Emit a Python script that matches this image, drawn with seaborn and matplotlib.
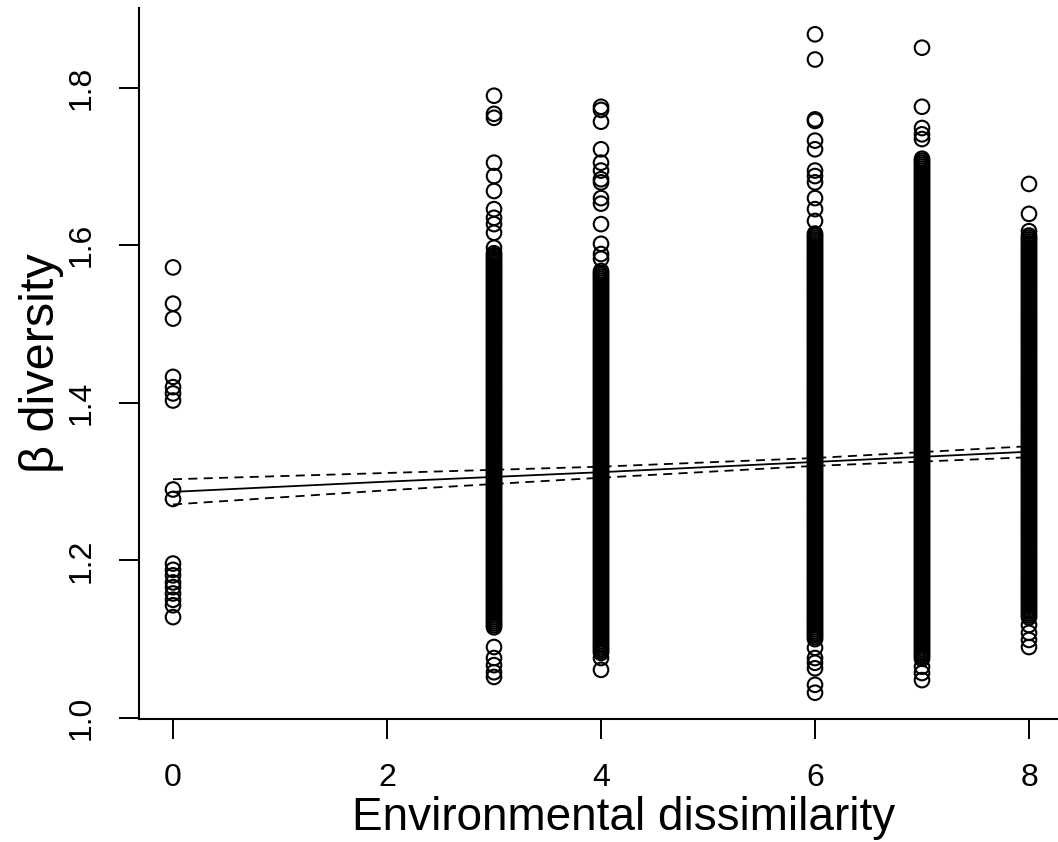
import seaborn as sns
import matplotlib.pyplot as plt
import pandas as pd

# Environmental dissimilarity levels and beta diversity values
env_levels = [0, 3, 4, 6, 7, 8]

beta_0 = [1.572, 1.526, 1.507, 1.433, 1.420, 1.412, 1.403, 1.290, 1.278,
          1.196, 1.188, 1.181, 1.172, 1.166, 1.158, 1.150, 1.143, 1.128]

# x = 3: sparse tails, then the solid run of overlapping points
beta_3 = [1.790, 1.767, 1.762, 1.705, 1.688, 1.669, 1.646, 1.635, 1.627, 1.616, 1.597,
          1.090, 1.076, 1.067, 1.058, 1.052,
          1.1150, 1.1175, 1.1200, 1.1225,
          1.1250, 1.1275, 1.1300, 1.1325, 1.1350, 1.1375, 1.1400, 1.1425, 1.1450, 1.1475,
          1.1500, 1.1525, 1.1550, 1.1575, 1.1600, 1.1625, 1.1650, 1.1675, 1.1700, 1.1725,
          1.1750, 1.1775, 1.1800, 1.1825, 1.1850, 1.1875, 1.1900, 1.1925, 1.1950, 1.1975,
          1.2000, 1.2025, 1.2050, 1.2075, 1.2100, 1.2125, 1.2150, 1.2175, 1.2200, 1.2225,
          1.2250, 1.2275, 1.2300, 1.2325, 1.2350, 1.2375, 1.2400, 1.2425, 1.2450, 1.2475,
          1.2500, 1.2525, 1.2550, 1.2575, 1.2600, 1.2625, 1.2650, 1.2675, 1.2700, 1.2725,
          1.2750, 1.2775, 1.2800, 1.2825, 1.2850, 1.2875, 1.2900, 1.2925, 1.2950, 1.2975,
          1.3000, 1.3025, 1.3050, 1.3075, 1.3100, 1.3125, 1.3150, 1.3175, 1.3200, 1.3225,
          1.3250, 1.3275, 1.3300, 1.3325, 1.3350, 1.3375, 1.3400, 1.3425, 1.3450, 1.3475,
          1.3500, 1.3525, 1.3550, 1.3575, 1.3600, 1.3625, 1.3650, 1.3675, 1.3700, 1.3725,
          1.3750, 1.3775, 1.3800, 1.3825, 1.3850, 1.3875, 1.3900, 1.3925, 1.3950, 1.3975,
          1.4000, 1.4025, 1.4050, 1.4075, 1.4100, 1.4125, 1.4150, 1.4175, 1.4200, 1.4225,
          1.4250, 1.4275, 1.4300, 1.4325, 1.4350, 1.4375, 1.4400, 1.4425, 1.4450, 1.4475,
          1.4500, 1.4525, 1.4550, 1.4575, 1.4600, 1.4625, 1.4650, 1.4675, 1.4700, 1.4725,
          1.4750, 1.4775, 1.4800, 1.4825, 1.4850, 1.4875, 1.4900, 1.4925, 1.4950, 1.4975,
          1.5000, 1.5025, 1.5050, 1.5075, 1.5100, 1.5125, 1.5150, 1.5175, 1.5200, 1.5225,
          1.5250, 1.5275, 1.5300, 1.5325, 1.5350, 1.5375, 1.5400, 1.5425, 1.5450, 1.5475,
          1.5500, 1.5525, 1.5550, 1.5575, 1.5600, 1.5625, 1.5650, 1.5675, 1.5700, 1.5725,
          1.5750, 1.5775, 1.5800, 1.5825, 1.5850, 1.5875, 1.5900]

beta_4 = [1.776, 1.772, 1.757, 1.722, 1.705, 1.695, 1.684, 1.680, 1.660, 1.653, 1.627,
          1.602, 1.589, 1.583, 1.076, 1.061,
          1.0825, 1.0850, 1.0875, 1.0900, 1.0925, 1.0950, 1.0975,
          1.1000, 1.1025, 1.1050, 1.1075, 1.1100, 1.1125, 1.1150, 1.1175, 1.1200, 1.1225,
          1.1250, 1.1275, 1.1300, 1.1325, 1.1350, 1.1375, 1.1400, 1.1425, 1.1450, 1.1475,
          1.1500, 1.1525, 1.1550, 1.1575, 1.1600, 1.1625, 1.1650, 1.1675, 1.1700, 1.1725,
          1.1750, 1.1775, 1.1800, 1.1825, 1.1850, 1.1875, 1.1900, 1.1925, 1.1950, 1.1975,
          1.2000, 1.2025, 1.2050, 1.2075, 1.2100, 1.2125, 1.2150, 1.2175, 1.2200, 1.2225,
          1.2250, 1.2275, 1.2300, 1.2325, 1.2350, 1.2375, 1.2400, 1.2425, 1.2450, 1.2475,
          1.2500, 1.2525, 1.2550, 1.2575, 1.2600, 1.2625, 1.2650, 1.2675, 1.2700, 1.2725,
          1.2750, 1.2775, 1.2800, 1.2825, 1.2850, 1.2875, 1.2900, 1.2925, 1.2950, 1.2975,
          1.3000, 1.3025, 1.3050, 1.3075, 1.3100, 1.3125, 1.3150, 1.3175, 1.3200, 1.3225,
          1.3250, 1.3275, 1.3300, 1.3325, 1.3350, 1.3375, 1.3400, 1.3425, 1.3450, 1.3475,
          1.3500, 1.3525, 1.3550, 1.3575, 1.3600, 1.3625, 1.3650, 1.3675, 1.3700, 1.3725,
          1.3750, 1.3775, 1.3800, 1.3825, 1.3850, 1.3875, 1.3900, 1.3925, 1.3950, 1.3975,
          1.4000, 1.4025, 1.4050, 1.4075, 1.4100, 1.4125, 1.4150, 1.4175, 1.4200, 1.4225,
          1.4250, 1.4275, 1.4300, 1.4325, 1.4350, 1.4375, 1.4400, 1.4425, 1.4450, 1.4475,
          1.4500, 1.4525, 1.4550, 1.4575, 1.4600, 1.4625, 1.4650, 1.4675, 1.4700, 1.4725,
          1.4750, 1.4775, 1.4800, 1.4825, 1.4850, 1.4875, 1.4900, 1.4925, 1.4950, 1.4975,
          1.5000, 1.5025, 1.5050, 1.5075, 1.5100, 1.5125, 1.5150, 1.5175, 1.5200, 1.5225,
          1.5250, 1.5275, 1.5300, 1.5325, 1.5350, 1.5375, 1.5400, 1.5425, 1.5450, 1.5475,
          1.5500, 1.5525, 1.5550, 1.5575, 1.5600, 1.5625, 1.5650, 1.5675]

beta_6 = [1.868, 1.836, 1.760, 1.758, 1.733, 1.722, 1.695, 1.688, 1.680, 1.660, 1.646,
          1.631, 1.089, 1.076, 1.070, 1.063, 1.042, 1.032,
          1.1000, 1.1025, 1.1050, 1.1075, 1.1100, 1.1125, 1.1150, 1.1175, 1.1200, 1.1225,
          1.1250, 1.1275, 1.1300, 1.1325, 1.1350, 1.1375, 1.1400, 1.1425, 1.1450, 1.1475,
          1.1500, 1.1525, 1.1550, 1.1575, 1.1600, 1.1625, 1.1650, 1.1675, 1.1700, 1.1725,
          1.1750, 1.1775, 1.1800, 1.1825, 1.1850, 1.1875, 1.1900, 1.1925, 1.1950, 1.1975,
          1.2000, 1.2025, 1.2050, 1.2075, 1.2100, 1.2125, 1.2150, 1.2175, 1.2200, 1.2225,
          1.2250, 1.2275, 1.2300, 1.2325, 1.2350, 1.2375, 1.2400, 1.2425, 1.2450, 1.2475,
          1.2500, 1.2525, 1.2550, 1.2575, 1.2600, 1.2625, 1.2650, 1.2675, 1.2700, 1.2725,
          1.2750, 1.2775, 1.2800, 1.2825, 1.2850, 1.2875, 1.2900, 1.2925, 1.2950, 1.2975,
          1.3000, 1.3025, 1.3050, 1.3075, 1.3100, 1.3125, 1.3150, 1.3175, 1.3200, 1.3225,
          1.3250, 1.3275, 1.3300, 1.3325, 1.3350, 1.3375, 1.3400, 1.3425, 1.3450, 1.3475,
          1.3500, 1.3525, 1.3550, 1.3575, 1.3600, 1.3625, 1.3650, 1.3675, 1.3700, 1.3725,
          1.3750, 1.3775, 1.3800, 1.3825, 1.3850, 1.3875, 1.3900, 1.3925, 1.3950, 1.3975,
          1.4000, 1.4025, 1.4050, 1.4075, 1.4100, 1.4125, 1.4150, 1.4175, 1.4200, 1.4225,
          1.4250, 1.4275, 1.4300, 1.4325, 1.4350, 1.4375, 1.4400, 1.4425, 1.4450, 1.4475,
          1.4500, 1.4525, 1.4550, 1.4575, 1.4600, 1.4625, 1.4650, 1.4675, 1.4700, 1.4725,
          1.4750, 1.4775, 1.4800, 1.4825, 1.4850, 1.4875, 1.4900, 1.4925, 1.4950, 1.4975,
          1.5000, 1.5025, 1.5050, 1.5075, 1.5100, 1.5125, 1.5150, 1.5175, 1.5200, 1.5225,
          1.5250, 1.5275, 1.5300, 1.5325, 1.5350, 1.5375, 1.5400, 1.5425, 1.5450, 1.5475,
          1.5500, 1.5525, 1.5550, 1.5575, 1.5600, 1.5625, 1.5650, 1.5675, 1.5700, 1.5725,
          1.5750, 1.5775, 1.5800, 1.5825, 1.5850, 1.5875, 1.5900, 1.5925, 1.5950, 1.5975,
          1.6000, 1.6025, 1.6050, 1.6075, 1.6100, 1.6125, 1.6150]

beta_7 = [1.851, 1.776, 1.749, 1.741, 1.735, 1.065, 1.057, 1.048,
          1.0750, 1.0775, 1.0800, 1.0825, 1.0850, 1.0875, 1.0900, 1.0925, 1.0950, 1.0975,
          1.1000, 1.1025, 1.1050, 1.1075, 1.1100, 1.1125, 1.1150, 1.1175, 1.1200, 1.1225,
          1.1250, 1.1275, 1.1300, 1.1325, 1.1350, 1.1375, 1.1400, 1.1425, 1.1450, 1.1475,
          1.1500, 1.1525, 1.1550, 1.1575, 1.1600, 1.1625, 1.1650, 1.1675, 1.1700, 1.1725,
          1.1750, 1.1775, 1.1800, 1.1825, 1.1850, 1.1875, 1.1900, 1.1925, 1.1950, 1.1975,
          1.2000, 1.2025, 1.2050, 1.2075, 1.2100, 1.2125, 1.2150, 1.2175, 1.2200, 1.2225,
          1.2250, 1.2275, 1.2300, 1.2325, 1.2350, 1.2375, 1.2400, 1.2425, 1.2450, 1.2475,
          1.2500, 1.2525, 1.2550, 1.2575, 1.2600, 1.2625, 1.2650, 1.2675, 1.2700, 1.2725,
          1.2750, 1.2775, 1.2800, 1.2825, 1.2850, 1.2875, 1.2900, 1.2925, 1.2950, 1.2975,
          1.3000, 1.3025, 1.3050, 1.3075, 1.3100, 1.3125, 1.3150, 1.3175, 1.3200, 1.3225,
          1.3250, 1.3275, 1.3300, 1.3325, 1.3350, 1.3375, 1.3400, 1.3425, 1.3450, 1.3475,
          1.3500, 1.3525, 1.3550, 1.3575, 1.3600, 1.3625, 1.3650, 1.3675, 1.3700, 1.3725,
          1.3750, 1.3775, 1.3800, 1.3825, 1.3850, 1.3875, 1.3900, 1.3925, 1.3950, 1.3975,
          1.4000, 1.4025, 1.4050, 1.4075, 1.4100, 1.4125, 1.4150, 1.4175, 1.4200, 1.4225,
          1.4250, 1.4275, 1.4300, 1.4325, 1.4350, 1.4375, 1.4400, 1.4425, 1.4450, 1.4475,
          1.4500, 1.4525, 1.4550, 1.4575, 1.4600, 1.4625, 1.4650, 1.4675, 1.4700, 1.4725,
          1.4750, 1.4775, 1.4800, 1.4825, 1.4850, 1.4875, 1.4900, 1.4925, 1.4950, 1.4975,
          1.5000, 1.5025, 1.5050, 1.5075, 1.5100, 1.5125, 1.5150, 1.5175, 1.5200, 1.5225,
          1.5250, 1.5275, 1.5300, 1.5325, 1.5350, 1.5375, 1.5400, 1.5425, 1.5450, 1.5475,
          1.5500, 1.5525, 1.5550, 1.5575, 1.5600, 1.5625, 1.5650, 1.5675, 1.5700, 1.5725,
          1.5750, 1.5775, 1.5800, 1.5825, 1.5850, 1.5875, 1.5900, 1.5925, 1.5950, 1.5975,
          1.6000, 1.6025, 1.6050, 1.6075, 1.6100, 1.6125, 1.6150, 1.6175, 1.6200, 1.6225,
          1.6250, 1.6275, 1.6300, 1.6325, 1.6350, 1.6375, 1.6400, 1.6425, 1.6450, 1.6475,
          1.6500, 1.6525, 1.6550, 1.6575, 1.6600, 1.6625, 1.6650, 1.6675, 1.6700, 1.6725,
          1.6750, 1.6775, 1.6800, 1.6825, 1.6850, 1.6875, 1.6900, 1.6925, 1.6950, 1.6975,
          1.7000, 1.7025, 1.7050, 1.7075, 1.7100]

beta_8 = [1.678, 1.640, 1.618, 1.118, 1.108, 1.099, 1.090,
          1.1275, 1.1300, 1.1325, 1.1350, 1.1375, 1.1400, 1.1425, 1.1450, 1.1475,
          1.1500, 1.1525, 1.1550, 1.1575, 1.1600, 1.1625, 1.1650, 1.1675, 1.1700, 1.1725,
          1.1750, 1.1775, 1.1800, 1.1825, 1.1850, 1.1875, 1.1900, 1.1925, 1.1950, 1.1975,
          1.2000, 1.2025, 1.2050, 1.2075, 1.2100, 1.2125, 1.2150, 1.2175, 1.2200, 1.2225,
          1.2250, 1.2275, 1.2300, 1.2325, 1.2350, 1.2375, 1.2400, 1.2425, 1.2450, 1.2475,
          1.2500, 1.2525, 1.2550, 1.2575, 1.2600, 1.2625, 1.2650, 1.2675, 1.2700, 1.2725,
          1.2750, 1.2775, 1.2800, 1.2825, 1.2850, 1.2875, 1.2900, 1.2925, 1.2950, 1.2975,
          1.3000, 1.3025, 1.3050, 1.3075, 1.3100, 1.3125, 1.3150, 1.3175, 1.3200, 1.3225,
          1.3250, 1.3275, 1.3300, 1.3325, 1.3350, 1.3375, 1.3400, 1.3425, 1.3450, 1.3475,
          1.3500, 1.3525, 1.3550, 1.3575, 1.3600, 1.3625, 1.3650, 1.3675, 1.3700, 1.3725,
          1.3750, 1.3775, 1.3800, 1.3825, 1.3850, 1.3875, 1.3900, 1.3925, 1.3950, 1.3975,
          1.4000, 1.4025, 1.4050, 1.4075, 1.4100, 1.4125, 1.4150, 1.4175, 1.4200, 1.4225,
          1.4250, 1.4275, 1.4300, 1.4325, 1.4350, 1.4375, 1.4400, 1.4425, 1.4450, 1.4475,
          1.4500, 1.4525, 1.4550, 1.4575, 1.4600, 1.4625, 1.4650, 1.4675, 1.4700, 1.4725,
          1.4750, 1.4775, 1.4800, 1.4825, 1.4850, 1.4875, 1.4900, 1.4925, 1.4950, 1.4975,
          1.5000, 1.5025, 1.5050, 1.5075, 1.5100, 1.5125, 1.5150, 1.5175, 1.5200, 1.5225,
          1.5250, 1.5275, 1.5300, 1.5325, 1.5350, 1.5375, 1.5400, 1.5425, 1.5450, 1.5475,
          1.5500, 1.5525, 1.5550, 1.5575, 1.5600, 1.5625, 1.5650, 1.5675, 1.5700, 1.5725,
          1.5750, 1.5775, 1.5800, 1.5825, 1.5850, 1.5875, 1.5900, 1.5925, 1.5950, 1.5975,
          1.6000, 1.6025, 1.6050, 1.6075, 1.6100, 1.6125]

# Fitted line and confidence band
fit_x = [0, 2, 4, 6, 8]
fit_y = [1.287, 1.300, 1.312, 1.325, 1.338]
fit_upper = [1.303, 1.311, 1.319, 1.330, 1.345]
fit_lower = [1.271, 1.289, 1.305, 1.320, 1.331]

x_ticks = [0, 2, 4, 6, 8]
y_ticks = [1.0, 1.2, 1.4, 1.6, 1.8]
x_label = "Environmental dissimilarity"
y_label = "β diversity"

# Build long table for seaborn
columns = [beta_0, beta_3, beta_4, beta_6, beta_7, beta_8]
rows = []
for level, vals in zip(env_levels, columns):
    for v in vals:
        rows.append((level, v))
df = pd.DataFrame(rows, columns=["env", "beta"])

sns.set_style("ticks")
plt.rcParams['font.family'] = ['Liberation Sans', 'DejaVu Sans']

fig = plt.figure(figsize=(10.58, 8.42), dpi=100)
ax = fig.add_axes([139 / 1058, 123 / 842, 919 / 1058, 711 / 842])

sns.scatterplot(data=df, x="env", y="beta", ax=ax, marker="o", s=110,
                facecolors="none", edgecolor="black", linewidth=1.5)

sns.lineplot(x=fit_x, y=fit_y, ax=ax, color="black", linewidth=1.3)
sns.lineplot(x=fit_x, y=fit_upper, ax=ax, color="black", linewidth=1.3,
             linestyle=(0, (5, 3.5)))
sns.lineplot(x=fit_x, y=fit_lower, ax=ax, color="black", linewidth=1.3,
             linestyle=(0, (5, 3.5)))

ax.set_xlim(-0.318, 8.271)
ax.set_ylim(0.9986, 1.9014)
ax.set_xticks(x_ticks)
ax.set_yticks(y_ticks)
ax.set_yticklabels([f"{t:.1f}" for t in y_ticks], rotation=90, va="center")

sns.despine(ax=ax)
for side in ["left", "bottom"]:
    ax.spines[side].set_linewidth(1.5)
    ax.spines[side].set_color("black")
ax.tick_params(axis="both", length=14.5, width=1.4, color="black",
               labelsize=23, labelcolor="black")
ax.tick_params(axis="y", pad=16)
ax.tick_params(axis="x", pad=17.5)

ax.set_xlabel(x_label, fontsize=33, color="black")
ax.set_ylabel(y_label, fontsize=35, color="black")
ax.xaxis.set_label_coords(0.527, -0.108)
ax.yaxis.set_label_coords(-0.082, 0.5)

fig.savefig("out.png", dpi=100)
